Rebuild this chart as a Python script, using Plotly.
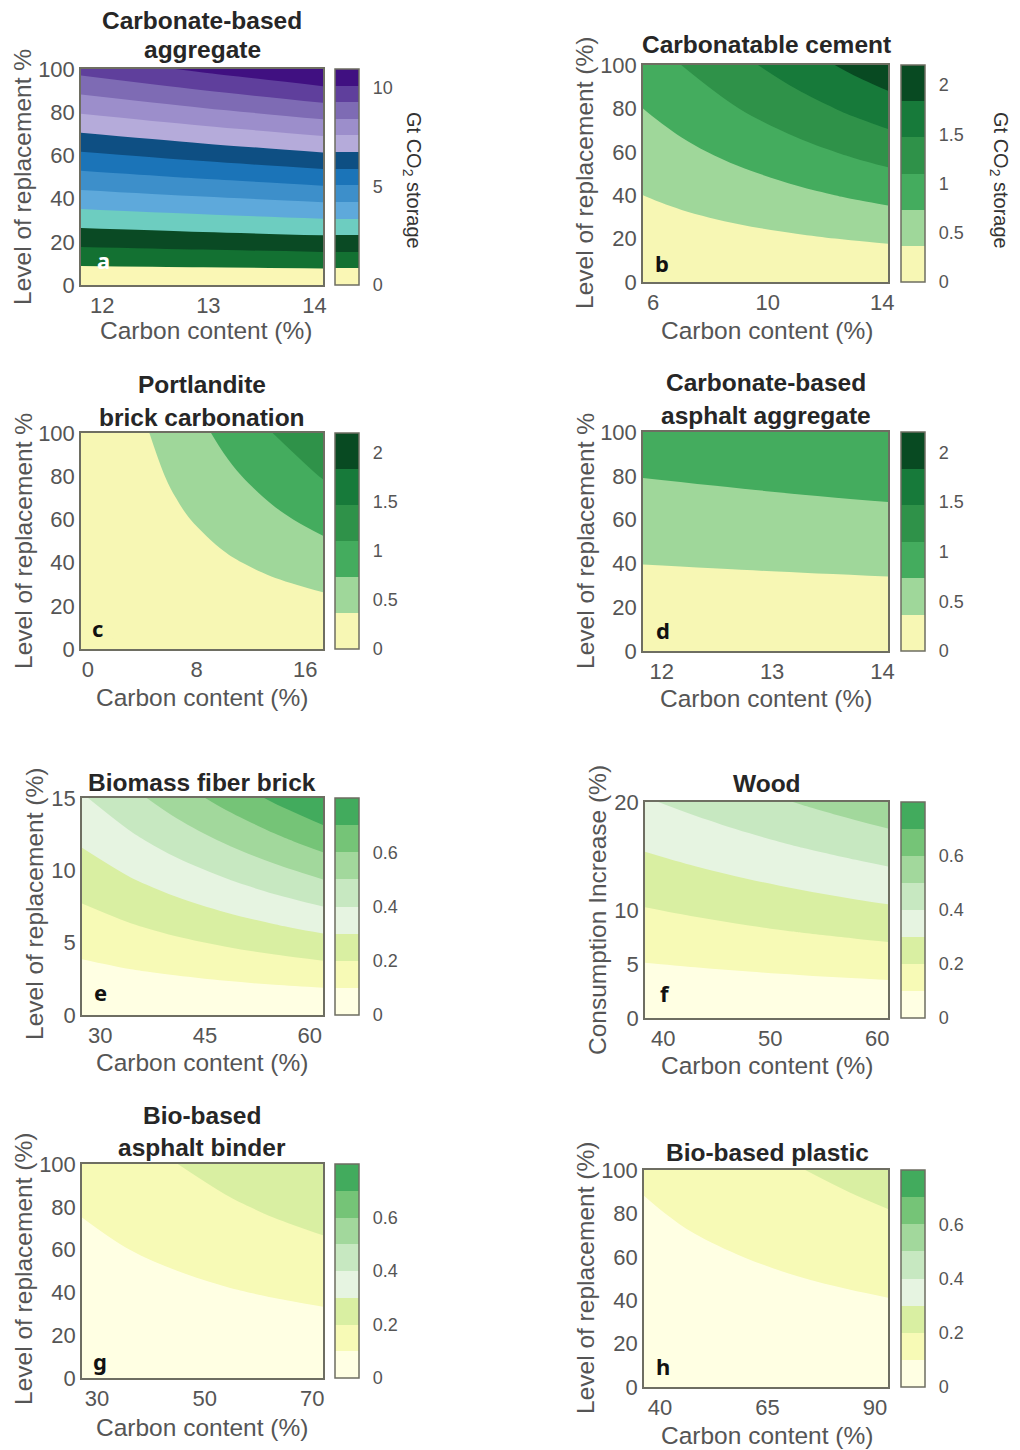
import plotly.graph_objects as go

W, H = 1020, 1450

# ---------------- data ----------------
a_x = [11.8, 12.95, 14.1]
a_y = [0, 50, 100]
a_z = [[0, 0, 0],
       [4.79, 5.15, 5.51],
       [9.57, 10.29, 11.01]]

b_x = [5, 7, 9, 11, 13, 15]
b_y = [0, 20, 40, 60, 80, 100]
b_z = [[0, 0, 0, 0, 0, 0],
       [0.166, 0.221, 0.276, 0.330, 0.385, 0.440],
       [0.332, 0.442, 0.551, 0.661, 0.770, 0.880],
       [0.498, 0.662, 0.827, 0.991, 1.156, 1.320],
       [0.664, 0.883, 1.102, 1.322, 1.541, 1.760],
       [0.830, 1.104, 1.378, 1.652, 1.926, 2.200]]

c_x = [-0.5, 3, 6.5, 10, 13.5, 17.5]
c_y = [0, 20, 40, 60, 80, 100]
c_z = [[0, 0, 0, 0, 0, 0],
       [-0.008, 0.049, 0.105, 0.162, 0.219, 0.284],
       [-0.016, 0.097, 0.211, 0.324, 0.437, 0.567],
       [-0.024, 0.146, 0.316, 0.486, 0.656, 0.851],
       [-0.032, 0.194, 0.421, 0.648, 0.875, 1.134],
       [-0.041, 0.243, 0.527, 0.810, 1.094, 1.418]]

d_x = [11.8, 12.95, 14.1]
d_y = [0, 50, 100]
d_z = [[0, 0, 0],
       [0.464, 0.503, 0.542],
       [0.928, 1.006, 1.083]]

e_x = [27, 34, 41, 48, 55, 62]
e_y = [0, 3, 6, 9, 12, 15]
e_z = [[0, 0, 0, 0, 0, 0],
       [0.077, 0.094, 0.110, 0.127, 0.144, 0.160],
       [0.154, 0.187, 0.221, 0.254, 0.287, 0.320],
       [0.231, 0.281, 0.331, 0.381, 0.431, 0.481],
       [0.308, 0.374, 0.442, 0.508, 0.574, 0.641],
       [0.385, 0.468, 0.552, 0.635, 0.718, 0.801]]

f_x = [38, 43, 48, 53, 58, 63]
f_y = [0, 4, 8, 12, 16, 20]
f_z = [[0, 0, 0, 0, 0, 0],
       [0.078, 0.085, 0.093, 0.101, 0.109, 0.117],
       [0.155, 0.171, 0.187, 0.203, 0.218, 0.234],
       [0.233, 0.256, 0.280, 0.304, 0.328, 0.352],
       [0.310, 0.342, 0.374, 0.406, 0.437, 0.469],
       [0.388, 0.427, 0.467, 0.507, 0.546, 0.586]]

g_x = [27, 36, 45, 54, 63, 72]
g_y = [0, 20, 40, 60, 80, 100]
g_z = [[0, 0, 0, 0, 0, 0],
       [0.027, 0.033, 0.040, 0.047, 0.053, 0.060],
       [0.053, 0.067, 0.080, 0.094, 0.107, 0.120],
       [0.080, 0.100, 0.120, 0.140, 0.160, 0.180],
       [0.106, 0.134, 0.160, 0.187, 0.214, 0.240],
       [0.133, 0.167, 0.200, 0.234, 0.267, 0.300]]

h_x = [36, 48, 60, 72, 84, 94]
h_y = [0, 20, 40, 60, 80, 100]
h_z = [[0, 0, 0, 0, 0, 0],
       [0.023, 0.028, 0.034, 0.039, 0.045, 0.049],
       [0.045, 0.056, 0.067, 0.078, 0.089, 0.098],
       [0.068, 0.085, 0.101, 0.118, 0.134, 0.148],
       [0.090, 0.113, 0.134, 0.157, 0.178, 0.197],
       [0.113, 0.141, 0.168, 0.196, 0.223, 0.246]]

x_ticks = {'a': [12, 13, 14], 'b': [6, 10, 14], 'c': [0, 8, 16], 'd': [12, 13, 14],
           'e': [30, 45, 60], 'f': [40, 50, 60], 'g': [30, 50, 70], 'h': [40, 65, 90]}
y_ticks_pct = [0, 20, 40, 60, 80, 100]
y_ticks_e = [0, 5, 10, 15]
y_ticks_f = [0, 5, 10, 20]
cb_ticks_a = [0, 5, 10]
cb_ticks_bcd = [0, 0.5, 1, 1.5, 2]
cb_ticks_efgh = [0, 0.2, 0.4, 0.6]

titles = {'a': ['Carbonate-based', 'aggregate'], 'b': ['Carbonatable cement'],
          'c': ['Portlandite', 'brick carbonation'], 'd': ['Carbonate-based', 'asphalt aggregate'],
          'e': ['Biomass fiber brick'], 'f': ['Wood'],
          'g': ['Bio-based', 'asphalt binder'], 'h': ['Bio-based plastic']}
ylabels = {'a': 'Level of replacement %', 'b': 'Level of replacement (%)',
           'c': 'Level of replacement %', 'd': 'Level of replacement %',
           'e': 'Level of replacement (%)', 'f': 'Consumption Increase (%)',
           'g': 'Level of replacement (%)', 'h': 'Level of replacement (%)'}
xlabel = 'Carbon content (%)'
cb_title = 'Gt CO<sub>2</sub> storage'

# ---------------- styles ----------------
cols_a = ['#FAF7B5', '#137132', '#0A4A24', '#6DCDC0', '#5EA9DB', '#3D8FCA', '#1B74B8',
          '#0E4F83', '#B5ABDA', '#9C8ECB', '#7E6BB4', '#5F3F9C', '#401081']
cols_bcd = ['#F7F7B4', '#9FD79A', '#44AC5E', '#2F9249', '#177A3A', '#084A22']
cols_efgh = ['#FFFFE3', '#F7FAB6', '#D9EFA2', '#E6F4E1', '#C7E8C1', '#A2D89C', '#75C477', '#42AB5D']

FONT = 'Liberation Sans, Arial, sans-serif'
FRAME = '#6E6E62'
TICKC = '#555555'


def stepped(colors):
    n = len(colors)
    cs = []
    for k, c in enumerate(colors):
        cs.append([k / n, c])
        cs.append([(k + 1) / n, c])
    return cs


# pixel boxes: plot (left, right, top, bottom), colorbar left
P = {
    'a': dict(x=a_x, y=a_y, z=a_z, cols=cols_a, size=0.84375, xr=[11.8, 14.08], yr=[0, 100], yt=y_ticks_pct,
              cbt=cb_ticks_a, box=(81, 323, 69, 285), cb=335),
    'b': dict(x=b_x, y=b_y, z=b_z, cols=cols_bcd, size=0.3671875, xr=[5.65, 14.2], yr=[0, 100], yt=y_ticks_pct,
              cbt=cb_ticks_bcd, box=(643, 888, 65, 282), cb=901),
    'c': dict(x=c_x, y=c_y, z=c_z, cols=cols_bcd, size=0.3671875, xr=[-0.5, 17.3], yr=[0, 100], yt=y_ticks_pct,
              cbt=cb_ticks_bcd, box=(81, 323, 433, 649), cb=335),
    'd': dict(x=d_x, y=d_y, z=d_z, cols=cols_bcd, size=0.3671875, xr=[11.83, 14.05], yr=[0, 100], yt=y_ticks_pct,
              cbt=cb_ticks_bcd, box=(643, 888, 432, 651), cb=901),
    'e': dict(x=e_x, y=e_y, z=e_z, cols=cols_efgh, size=0.1, xr=[27.4, 61.9], yr=[0, 15], yt=y_ticks_e,
              cbt=cb_ticks_efgh, box=(82, 323, 798, 1015), cb=335),
    'f': dict(x=f_x, y=f_y, z=f_z, cols=cols_efgh, size=0.1, xr=[38.3, 61], yr=[0, 20], yt=y_ticks_f,
              cbt=cb_ticks_efgh, box=(645, 888, 802, 1018), cb=901),
    'g': dict(x=g_x, y=g_y, z=g_z, cols=cols_efgh, size=0.1, xr=[27.2, 72], yr=[0, 100], yt=y_ticks_pct,
              cbt=cb_ticks_efgh, box=(82, 323, 1164, 1378), cb=335),
    'h': dict(x=h_x, y=h_y, z=h_z, cols=cols_efgh, size=0.1, xr=[36.3, 93], yr=[0, 100], yt=y_ticks_pct,
              cbt=cb_ticks_efgh, box=(644, 888, 1170, 1387), cb=901),
}

title_pos = {'a': (202, [20, 50]), 'b': (766, [45]), 'c': (202, [385, 417]), 'd': (766, [383, 415]),
             'e': (202, [782]), 'f': (767, [783]), 'g': (202, [1115, 1147]), 'h': (767, [1152])}
ylab_pos = {'a': (23, 177), 'b': (585, 173), 'c': (23, 541), 'd': (585, 541),
            'e': (34, 904), 'f': (597, 910), 'g': (23, 1269), 'h': (585, 1278)}
xlab_pos = {'a': (206, 330), 'b': (767, 330), 'c': (202, 697), 'd': (766, 698),
            'e': (202, 1062), 'f': (767, 1065), 'g': (202, 1427), 'h': (767, 1435)}
letter_pos = {'a': (103, 260), 'b': (662, 263), 'c': (97, 628), 'd': (663, 630),
              'e': (100, 992), 'f': (665, 993), 'g': (100, 1361), 'h': (663, 1366)}


def ann(text, px, py, size, color, angle=0, family=FONT, xanchor='center', yanchor='middle'):
    return dict(text=text, x=px / W, y=1 - py / H, xref='paper', yref='paper', showarrow=False,
                font=dict(size=size, color=color, family=family), textangle=angle,
                xanchor=xanchor, yanchor=yanchor)


fig = go.Figure()
layout = dict(width=W, height=H, autosize=False, margin=dict(l=0, r=0, t=0, b=0, pad=0, autoexpand=False),
              paper_bgcolor='white', plot_bgcolor='white', showlegend=False, font=dict(family=FONT))
annotations = []

for i, key in enumerate('abcdefgh', start=1):
    p = P[key]
    l, r, t, b = p['box']
    n = len(p['cols'])
    zmax = p['size'] * n
    fig.add_trace(go.Contour(
        x=p['x'], y=p['y'], z=p['z'], xaxis=f'x{i}', yaxis=f'y{i}',
        zmin=0, zmax=zmax, autocontour=False,
        contours=dict(start=0, end=zmax, size=p['size'], coloring='fill', showlines=False),
        colorscale=stepped(p['cols']),
        line=dict(width=0, smoothing=1.0),
        hoverinfo='skip',
        colorbar=dict(x=p['cb'] / W, xanchor='left', y=1 - (t + b) / 2 / H, yanchor='middle',
                      len=(b - t) / H, lenmode='fraction', thickness=24, thicknessmode='pixels',
                      outlinewidth=1.5, outlinecolor=FRAME, xpad=0, ypad=0,
                      tickvals=p['cbt'], ticks='outside', ticklen=10, tickcolor='rgba(0,0,0,0)',
                      tickfont=dict(size=18, color=TICKC, family=FONT)),
    ))
    axcommon = dict(showline=True, mirror=True, linecolor=FRAME, linewidth=1.5, showgrid=False,
                    zeroline=False, ticks='', tickfont=dict(size=22, color=TICKC, family=FONT))
    layout[f'xaxis{i}'] = dict(domain=[l / W, r / W], anchor=f'y{i}', range=p['xr'],
                               tickvals=x_ticks[key], **axcommon)
    layout[f'yaxis{i}'] = dict(domain=[1 - b / H, 1 - t / H], anchor=f'x{i}', range=p['yr'],
                               tickvals=p['yt'], **axcommon)

    cx, lines_y = title_pos[key]
    for txt, ty in zip(titles[key], lines_y):
        annotations.append(ann('<b>' + txt + '</b>', cx, ty, 24.5, '#262626'))
    yx, yy = ylab_pos[key]
    annotations.append(ann(ylabels[key], yx, yy, 24.5, TICKC, angle=-90))
    xx, xy = xlab_pos[key]
    annotations.append(ann(xlabel, xx, xy, 24.5, TICKC))
    lx, ly = letter_pos[key]
    annotations.append(ann('<b>' + key + '</b>', lx, ly, 22, 'white' if key == 'a' else '#111111',
                           family='Noto Sans, Liberation Sans, sans-serif'))

annotations.append(ann(cb_title, 413, 180, 20, '#333333', angle=90))
annotations.append(ann(cb_title, 1000, 180, 20, '#333333', angle=90))

layout['annotations'] = annotations
fig.update_layout(**layout)

fig.write_html("out.html", config={'displayModeBar': False, 'responsive': False},
               post_script="document.body.style.margin='0';")
